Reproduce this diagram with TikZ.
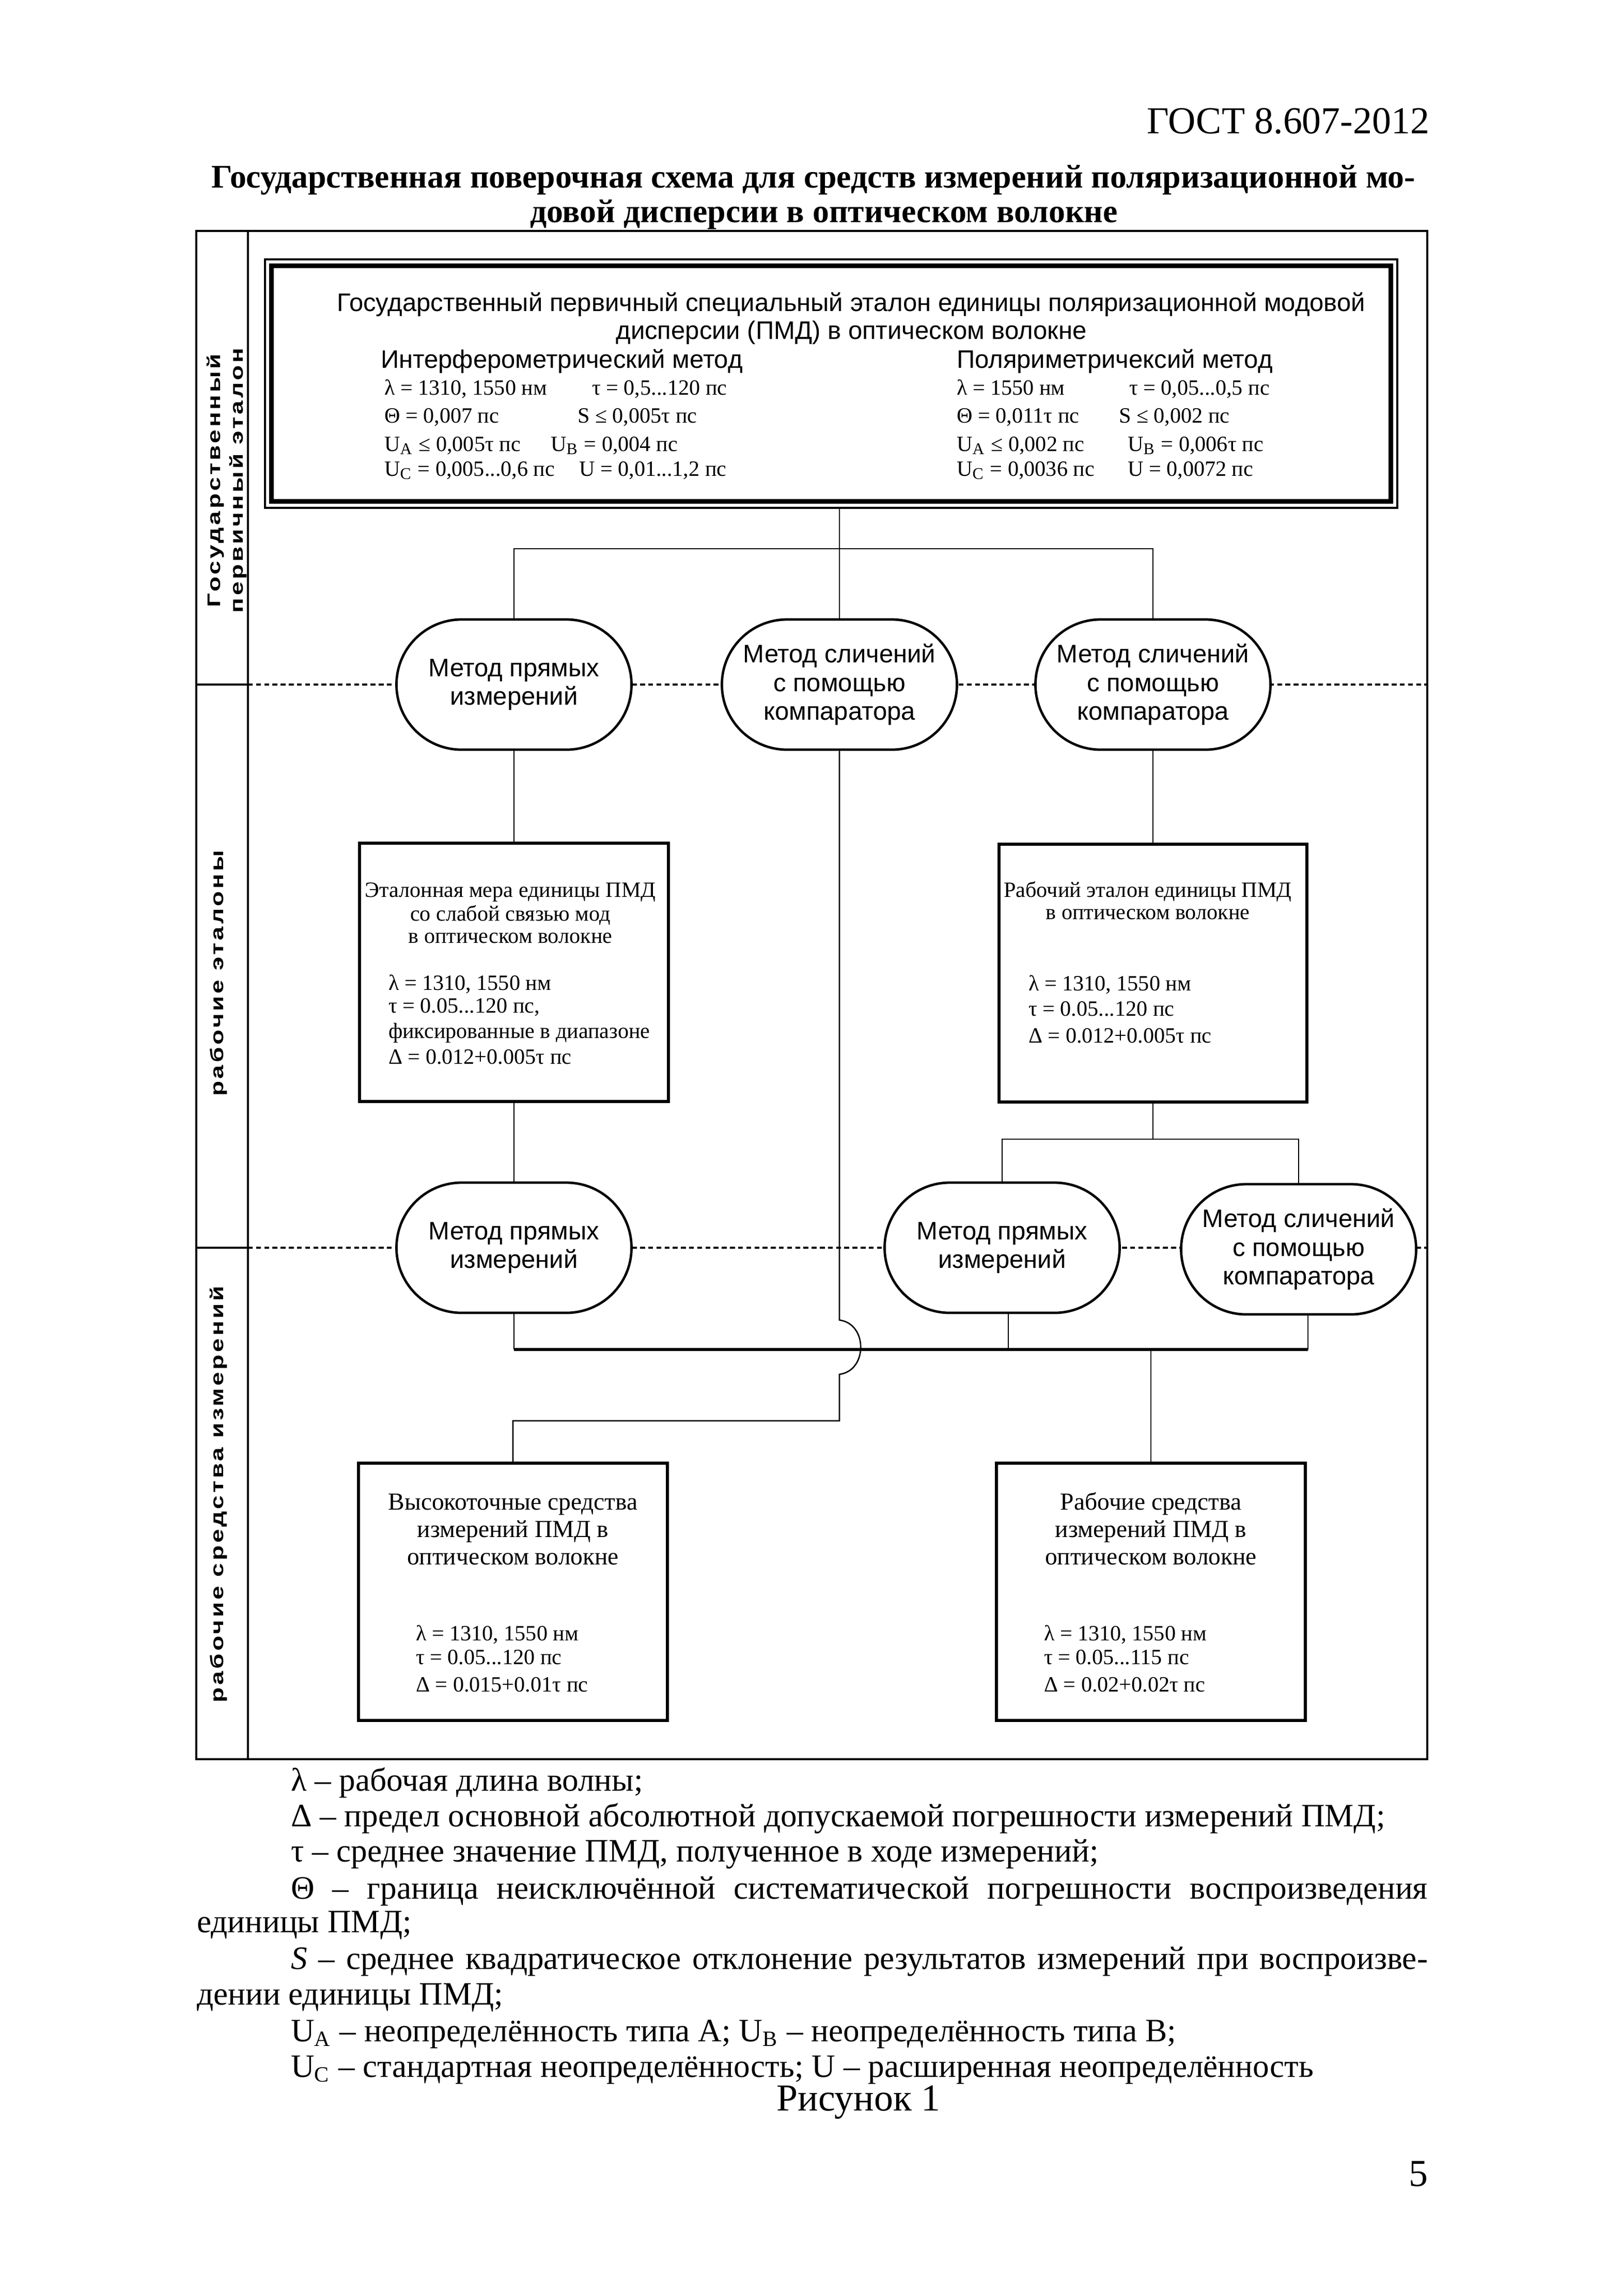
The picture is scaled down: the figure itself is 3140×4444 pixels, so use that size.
\documentclass[tikz,border=0pt]{standalone}
\usepackage{fontspec}
\usepackage{graphicx}
\setmainfont{Liberation Serif}
\newfontfamily\arial{Liberation Sans}
\newfontfamily\sidefont[LetterSpace=10]{Liberation Sans}
\usetikzlibrary{shapes.misc,calc}
\newdimen\U \U=0.1897pt
\newcommand\sidetext[1]{\scalebox{1.35}[1]{#1}}
\tikzset{
  frameline/.style={line width=0.6pt},
  conn/.style={line width=0.5pt},
  sepline/.style={line width=0.6pt, dash pattern=on 1.8pt off 1.2pt},
  oval/.style={rounded rectangle, draw, line width=0.9pt, fill=white,
    minimum width=455\U, minimum height=252\U, inner sep=0pt, align=center,
    font=\arial\fontsize{9.3}{10.5}\selectfont},
  boxnode/.style={draw, line width=1pt, fill=white, inner sep=0pt},
  tl/.style={inner sep=0pt, anchor=mid west},
  tc/.style={inner sep=0pt, anchor=mid},
  sans10/.style={font=\arial\fontsize{9.3}{11}\selectfont},
  par8/.style={font=\fontsize{8}{9.6}\selectfont},
  ttl8/.style={font=\fontsize{8}{9.6}\selectfont},
  ttl9/.style={font=\fontsize{9}{10.8}\selectfont},
  side/.style={rotate=90, inner sep=0pt, anchor=mid, font=\sidefont\bfseries\fontsize{6.7}{8}\selectfont},
  legend/.style={inner sep=0pt, anchor=mid west, font=\fontsize{12}{14.4}\selectfont},
}
\begin{document}
\begin{tikzpicture}[x=0.1897pt,y=-0.1897pt]
\useasboundingbox (0,0) rectangle (3140,4444);
\fill[white] (0,0) rectangle (3140,4444);

% header and title
\node[inner sep=0pt, anchor=base east, font=\fontsize{14}{16}\selectfont] (hdr) at (2768,258) {ГОСТ 8.607-2012};
\node[inner sep=0pt, anchor=base, font=\bfseries\fontsize{12.1}{14.5}\selectfont] (ttl1) at (1575,363) {Государственная поверочная схема для средств измерений поляризационной мо-};
\node[inner sep=0pt, anchor=base, font=\bfseries\fontsize{12.1}{14.5}\selectfont] (ttl2) at (1595,430) {довой дисперсии в оптическом волокне};

% frame, columns, level separators
\draw[frameline] (380,447) rectangle (2763,3405);
\draw[frameline] (480,447) -- (480,3405);
\draw[sepline] (480,1325) -- (2763,1325);
\draw[sepline] (480,2415) -- (2763,2415);
\draw[line width=0.8pt] (380,1325) -- (480,1325);
\draw[line width=0.8pt] (380,2415) -- (480,2415);

% side labels
\node[side] (s1a) at (414,930) {\sidetext{Государственный}};
\node[side] (s1b) at (458,930) {\sidetext{первичный эталон}};
\node[side] (s2) at (420,1884) {\sidetext{рабочие эталоны}};
\node[side] (s3) at (420,2892) {\sidetext{рабочие средства измерений}};

% primary standard box
\node[draw, line width=0.6pt, minimum width=2192\U, minimum height=481\U, inner sep=0pt] (topbox) at (1609,742.5) {};
\draw[line width=1.8pt] ($(topbox.north west)+(14,14)$) rectangle ($(topbox.south east)+(-14,-14)$);
\node[tc, sans10] (tb1) at (1648,590) {Государственный первичный специальный эталон единицы поляризационной модовой};
\node[tc, sans10] (tb2) at (1648,644) {дисперсии (ПМД) в оптическом волокне};
\node[tl, sans10] (tm1) at (736,700) {Интерферометрический метод};
\node[tl, sans10] (tm2) at (1851,700) {Поляриметричексий метод};
\node[tl, par8] (p11) at (743,752) {λ = 1310, 1550 нм};
\node[tl, par8] (p12) at (1145,752) {τ = 0,5...120 пс};
\node[tl, par8] (p13) at (743,806) {Θ = 0,007 пс};
\node[tl, par8] (p14) at (1117,806) {S ≤ 0,005τ пс};
\node[tl, par8] (p15) at (743,861) {U\textsubscript{A} ≤ 0,005τ пс};
\node[tl, par8] (p16) at (1065,861) {U\textsubscript{B} = 0,004 пс};
\node[tl, par8] (p17) at (743,909) {U\textsubscript{C} = 0,005...0,6 пс};
\node[tl, par8] (p18) at (1120,909) {U = 0,01...1,2 пс};
\node[tl, par8] (p21) at (1851,752) {λ = 1550 нм};
\node[tl, par8] (p22) at (2185,752) {τ = 0,05...0,5 пс};
\node[tl, par8] (p23) at (1851,806) {Θ = 0,011τ пс};
\node[tl, par8] (p24) at (2165,806) {S ≤ 0,002 пс};
\node[tl, par8] (p25) at (1851,861) {U\textsubscript{A} ≤ 0,002 пс};
\node[tl, par8] (p26) at (2182,861) {U\textsubscript{B} = 0,006τ пс};
\node[tl, par8] (p27) at (1851,909) {U\textsubscript{C} = 0,0036 пс};
\node[tl, par8] (p28) at (2182,909) {U = 0,0072 пс};

% methods, level 1
\node[oval] (O1) at (995,1325) {Метод прямых\\измерений};
\node[oval] (O2) at (1625,1325) {Метод сличений\\с помощью\\компаратора};
\node[oval] (O3) at (2232,1325) {Метод сличений\\с помощью\\компаратора};

% working standards
\node[boxnode, minimum width=598\U, minimum height=500\U] (B1) at (995,1882) {};
\node[tc, ttl8] (b1a) at (988,1724) {Эталонная мера единицы ПМД};
\node[tc, ttl8] (b1b) at (988,1770) {со слабой связью мод};
\node[tc, ttl8] (b1c) at (988,1813) {в оптическом волокне};
\node[tl, par8] (b1d) at (751,1904) {λ = 1310, 1550 нм};
\node[tl, par8] (b1e) at (751,1948) {τ = 0.05...120 пс,};
\node[tl, par8] (b1f) at (751,1997) {фиксированные в диапазоне};
\node[tl, par8] (b1g) at (751,2047) {Δ = 0.012+0.005τ пс};

\node[boxnode, minimum width=596\U, minimum height=499\U] (B2) at (2232,1883.5) {};
\node[tc, ttl8] (b2a) at (2222,1724) {Рабочий эталон единицы ПМД};
\node[tc, ttl8] (b2b) at (2222,1767) {в оптическом волокне};
\node[tl, par8] (b2d) at (1990,1905) {λ = 1310, 1550 нм};
\node[tl, par8] (b2e) at (1990,1954) {τ = 0.05...120 пс};
\node[tl, par8] (b2f) at (1990,2006) {Δ = 0.012+0.005τ пс};

% methods, level 2
\node[oval] (O4) at (995,2415) {Метод прямых\\измерений};
\node[oval] (O5) at (1940,2415) {Метод прямых\\измерений};
\node[oval] (O6) at (2514,2418) {Метод сличений\\с помощью\\компаратора};

% measuring instruments
\node[boxnode, minimum width=598\U, minimum height=498\U] (B3) at (993,3081) {};
\node[tc, ttl9] (b3a) at (993,2910) {Высокоточные средства};
\node[tc, ttl9] (b3b) at (993,2963) {измерений ПМД в};
\node[tc, ttl9] (b3c) at (993,3016) {оптическом волокне};
\node[tl, par8] (b3d) at (804,3163) {λ = 1310, 1550 нм};
\node[tl, par8] (b3e) at (804,3209) {τ = 0.05...120 пс};
\node[tl, par8] (b3f) at (804,3262) {Δ = 0.015+0.01τ пс};

\node[boxnode, minimum width=598\U, minimum height=498\U] (B4) at (2228,3081) {};
\node[tc, ttl9] (b4a) at (2228,2910) {Рабочие средства};
\node[tc, ttl9] (b4b) at (2228,2963) {измерений ПМД в};
\node[tc, ttl9] (b4c) at (2228,3016) {оптическом волокне};
\node[tl, par8] (b4d) at (2020,3163) {λ = 1310, 1550 нм};
\node[tl, par8] (b4e) at (2020,3209) {τ = 0.05...115 пс};
\node[tl, par8] (b4f) at (2020,3262) {Δ = 0.02+0.02τ пс};

% connectors
\coordinate (j1) at (1625,1062);
\draw[conn] (topbox.south -| O2.north) -- (O2.north);
\draw[conn] (O1.north) -- (O1.north |- j1) -- (O3.north |- j1) -- (O3.north);
\draw[conn] (O1.south) -- (B1.north);
\draw[conn] (O3.south) -- (B2.north);
\draw[conn] (B1.south) -- (O4.north);
\coordinate (j2) at (2232,2205);
\draw[conn] (B2.south) -- (j2);
\draw[conn] (O5.north) -- (O5.north |- j2) -- (O6.north |- j2) -- (O6.north);
\coordinate (j3) at (1625,2612);
\coordinate (o5b) at ($(O5.south)+(12,0)$);
\coordinate (o6b) at ($(O6.south)+(18,0)$);
\draw[conn] (O4.south) -- (O4.south |- j3);
\draw[conn] (o5b) -- (o5b |- j3);
\draw[conn] (o6b) -- (o6b |- j3);
\draw[line width=1.3pt] (O4.south |- j3) -- (o6b |- j3);
\draw[conn] (j3 -| B4.north) -- (B4.north);
\coordinate (m1) at (1625,2555);
\coordinate (m2) at (1625,2660);
\coordinate (m3) at (1625,2750);
\draw[conn] (O2.south) -- (m1) .. controls (1680,2562) and (1680,2653) .. (m2) -- (m3) -- (m3 -| B3.north) -- (B3.north);

% legend
\node[legend] (l1) at (562,3454) {λ – рабочая длина волны;};
\node[legend] (l2) at (562,3523) {Δ – предел основной абсолютной допускаемой погрешности измерений ПМД;};
\node[legend] (l3) at (562,3591) {τ – среднее значение ПМД, полученное в ходе измерений;};
\node[legend] (l4) at (562,3663) {\makebox[2201\U][s]{Θ – граница неисключённой систематической погрешности воспроизведения}};
\node[legend] (l5) at (380,3728) {единицы ПМД;};
\node[legend] (l6) at (562,3799) {\makebox[2201\U][s]{\textit{S} – среднее квадратическое отклонение результатов измерений при воспроизве-}};
\node[legend] (l7) at (380,3868) {дении единицы ПМД;};
\node[legend] (l8) at (562,3939) {U\textsubscript{A} – неопределённость типа А; U\textsubscript{B} – неопределённость типа В;};
\node[legend] (l9) at (562,4008) {U\textsubscript{C} – стандартная неопределённость; U – расширенная неопределённость};
\node[inner sep=0pt, anchor=mid, font=\fontsize{14}{16}\selectfont] (fig) at (1662,4073) {Рисунок 1};
\node[inner sep=0pt, anchor=mid east, font=\fontsize{14}{16}\selectfont] (pg) at (2765,4219) {5};
\end{tikzpicture}
\end{document}
